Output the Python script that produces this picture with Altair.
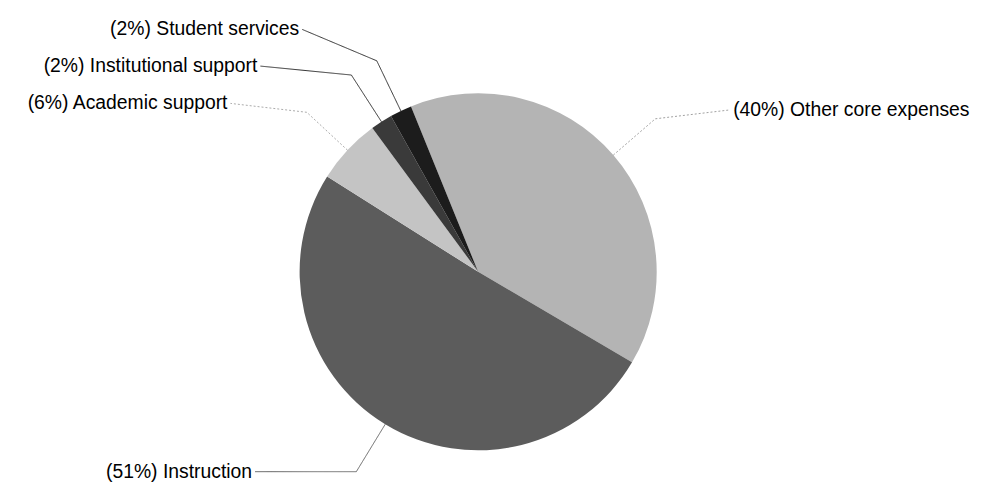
import math
import altair as alt
import pandas as pd

# ---- data ----
categories = ["Other core expenses", "Instruction", "Academic support",
              "Institutional support", "Student services"]
percents = [40, 51, 6, 2, 2]
labels = ["(40%) Other core expenses", "(51%) Instruction", "(6%) Academic support",
          "(2%) Institutional support", "(2%) Student services"]

# ---- styles ----
slice_colors = ["#b4b4b4", "#5c5c5c", "#c4c4c4", "#3a3a3a", "#1c1c1c"]
line_colors = ["#a0a0a0", "#666666", "#aaaaaa", "#2e2e2e", "#2e2e2e"]
line_dash = [[2, 2], [1, 0], [2, 2], [1, 0], [1, 0]]
FONT = "Liberation Sans"
FONT_SIZE = 19.5

# ---- layout ----
W, H = 987, 480
CX, CY = 474, 264
R = 180
R_ELBOW = 236
R_LABEL = 302
START_DEG = -22.1
GAP = 37
LIFT = 9

total = float(sum(percents))
start_rad = math.radians(START_DEG)

# geometry derived from the data
rows = []
cum = 0.0
for i, (c, p, lab) in enumerate(zip(categories, percents, labels)):
    mid = start_rad + (cum + p / 2.0) / total * 2 * math.pi
    cum += p
    ex, ey = CX + R * math.sin(mid), CY - R * math.cos(mid)
    bx, by = CX + R_ELBOW * math.sin(mid), CY - R_ELBOW * math.cos(mid)
    side = "right" if math.sin(mid) >= 0 else "left"
    ly = by - LIFT if by < CY else by
    rows.append(dict(idx=i, category=c, label=lab, ex=ex, ey=ey, bx=bx, by=by,
                     side=side, ly=ly))

# resolve vertical collisions per side
for side in ("left", "right"):
    upper = sorted([r for r in rows if r["side"] == side and r["ly"] < CY],
                   key=lambda r: -r["ly"])
    prev = None
    for r in upper:
        if prev is not None:
            r["ly"] = min(r["ly"], prev - GAP)
        prev = r["ly"]
    lower = sorted([r for r in rows if r["side"] == side and r["ly"] >= CY],
                   key=lambda r: r["ly"])
    prev = None
    for r in lower:
        if prev is not None:
            r["ly"] = max(r["ly"], prev + GAP)
        prev = r["ly"]

for r in rows:
    dy = r["ly"] - CY
    dxl = math.sqrt(max(R_LABEL ** 2 - dy ** 2, 0.0))
    r["lx"] = CX - dxl if r["side"] == "left" else CX + dxl

pie_df = pd.DataFrame({"idx": list(range(len(categories))),
                       "category": categories, "percent": percents})

line_rows = []
for r in rows:
    for step, (x, y) in enumerate([(r["ex"], r["ey"]), (r["bx"], r["by"]),
                                   (r["lx"], r["ly"])]):
        line_rows.append(dict(category=r["category"], step=step, px=x, py=y))
line_df = pd.DataFrame(line_rows)

lab_df = pd.DataFrame([dict(label=r["label"], side=r["side"],
                            tx=r["lx"] - 3 if r["side"] == "left" else r["lx"] + 3,
                            ty=r["ly"]) for r in rows])

pie = alt.Chart(pie_df).mark_arc(outerRadius=R, stroke=None).encode(
    theta=alt.Theta("percent:Q", stack=True,
                    scale=alt.Scale(range=[start_rad, start_rad + 2 * math.pi])),
    color=alt.Color("category:N", scale=alt.Scale(domain=categories, range=slice_colors),
                    legend=None),
    order=alt.Order("idx:Q"),
    x=alt.value(CX),
    y=alt.value(CY),
)

leaders = alt.Chart(line_df).mark_line(strokeWidth=1).encode(
    x=alt.X("px:Q", scale=None, axis=None),
    y=alt.Y("py:Q", scale=None, axis=None),
    detail="category:N",
    order="step:Q",
    stroke=alt.Stroke("category:N", scale=alt.Scale(domain=categories, range=line_colors),
                      legend=None),
    strokeDash=alt.StrokeDash("category:N", scale=alt.Scale(domain=categories, range=line_dash),
                              legend=None),
)

text_left = alt.Chart(lab_df[lab_df.side == "left"]).mark_text(
    align="right", baseline="middle", font=FONT, fontSize=FONT_SIZE, color="#000000"
).encode(x=alt.X("tx:Q", scale=None, axis=None), y=alt.Y("ty:Q", scale=None, axis=None),
         text="label:N")

text_right = alt.Chart(lab_df[lab_df.side == "right"]).mark_text(
    align="left", baseline="middle", font=FONT, fontSize=FONT_SIZE, color="#000000"
).encode(x=alt.X("tx:Q", scale=None, axis=None), y=alt.Y("ty:Q", scale=None, axis=None),
         text="label:N")

chart = alt.layer(pie, leaders, text_left, text_right).properties(
    width=W, height=H, padding=0, autosize=alt.AutoSizeParams(type="none"),
    background="#ffffff",
).configure_view(stroke=None)

chart.save("out.html", embed_options={"renderer": "svg", "actions": False})
